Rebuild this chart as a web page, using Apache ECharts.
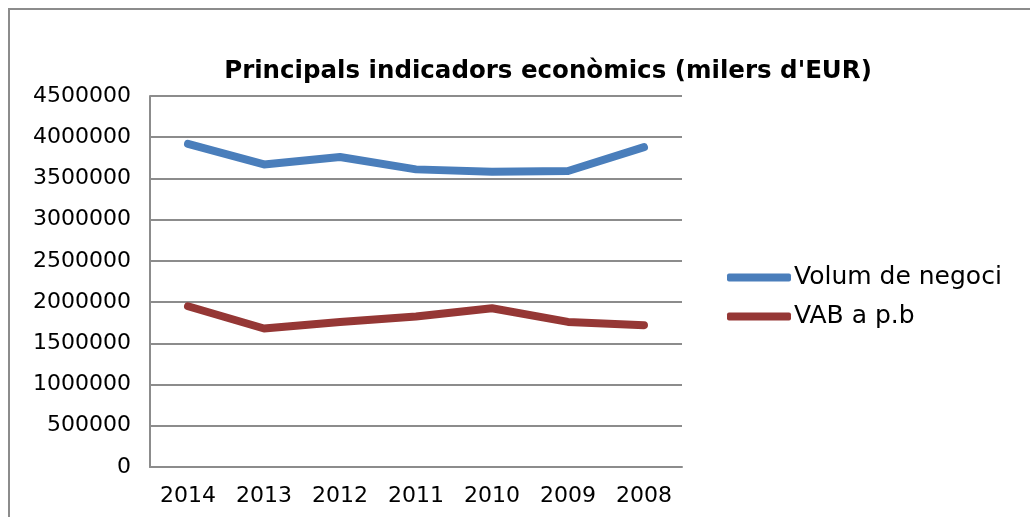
<!DOCTYPE html>
<html>
<head>
<meta charset="utf-8">
<script src="https://cdn.jsdelivr.net/npm/echarts@6/dist/echarts.min.js"></script>
<style>
  html, body { margin: 0; padding: 0; background: #fff; }
  #chart { width: 1030px; height: 517px; }
</style>
</head>
<body>
<div id="chart"></div>
<script>
const years = ['2014', '2013', '2012', '2011', '2010', '2009', '2008']
const volumNegoci = [3920000, 3670000, 3760000, 3610000, 3580000, 3590000, 3880000]
const vabPb = [1950000, 1680000, 1760000, 1825000, 1925000, 1760000, 1720000]
const seriesNames = ['Volum de negoci', 'VAB a p.b']

const font = 'DejaVu Sans'
const chart = echarts.init(document.getElementById('chart'))

chart.setOption({
  animation: false,
  color: ['#4a7ebb', '#953735'],
  title: {
    text: "Principals indicadors econòmics (milers d'EUR)",
    left: 543, top: 54, textAlign: 'center',
    textStyle: { fontFamily: font, fontSize: 24.5, fontWeight: 'bold', color: '#000' }
  },
  graphic: [{
    type: 'rect', shape: { x: 9, y: 9, width: 1040, height: 530 },
    style: { fill: 'none', stroke: '#8c8c8c', lineWidth: 2 }, silent: true
  }],
  legend: {
    orient: 'vertical', left: 722, top: 260, itemGap: 14,
    itemWidth: 64, itemHeight: 8,
    icon: 'roundRect',
    textStyle: { fontFamily: font, fontSize: 25, color: '#000', padding: [0, 0, 0, -2] },
    data: seriesNames
  },
  grid: { left: 150, right: 348, top: 96, bottom: 50 },
  xAxis: {
    type: 'category', data: years, boundaryGap: true,
    axisLine: { lineStyle: { color: '#8c8c8c', width: 2 } },
    axisTick: { show: false },
    axisLabel: { fontFamily: font, fontSize: 22, color: '#000', margin: 18, interval: 0 }
  },
  yAxis: {
    type: 'value', min: 0, max: 4500000, interval: 500000,
    axisLine: { show: true, lineStyle: { color: '#8c8c8c', width: 2 } },
    axisTick: { show: false },
    splitLine: { lineStyle: { color: '#8c8c8c', width: 2 } },
    axisLabel: { fontFamily: font, fontSize: 22, color: '#000', margin: 19, formatter: v => String(v) }
  },
  series: [
    { name: seriesNames[0], type: 'line', data: volumNegoci, symbol: 'none',
      lineStyle: { width: 8, cap: 'round', join: 'round' } },
    { name: seriesNames[1], type: 'line', data: vabPb, symbol: 'none',
      lineStyle: { width: 8, cap: 'round', join: 'round' } }
  ]
})
</script>
</body>
</html>
